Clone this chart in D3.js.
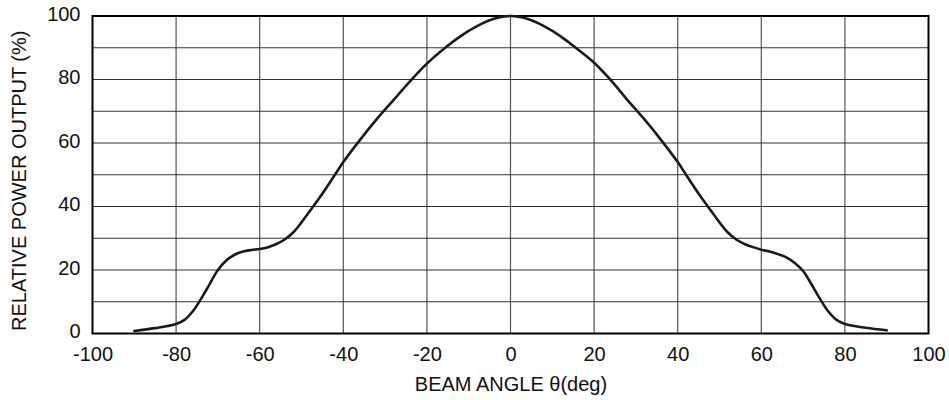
<!DOCTYPE html>
<html>
  <head>
    <meta charset="utf-8">
    <script src="https://cdn.jsdelivr.net/npm/d3@7"></script>
    <style>
      body { margin: 0; background: #fff; }
      text { font-family: "Liberation Sans", Arial, sans-serif; fill: #111; }
    </style>
  </head>
  <body>
    <div id="chart"></div>
    <script>
      // Beam angle (deg) and relative power output (%)
      const angles = [-90, -85, -80, -78, -76, -74, -72, -70, -68, -66, -64, -62, -60,
        -58, -56, -54, -52, -50, -48, -46, -44, -42, -40, -36, -32, -28, -24, -20,
        -16, -12, -8, -4, 0, 4, 8, 12, 16, 20, 24, 28, 32, 36, 40, 42, 44, 46, 48,
        50, 52, 54, 56, 58, 60, 62, 64, 66, 68, 70, 72, 74, 76, 78, 80, 85, 90];
      const power = [0.8, 1.7, 3.0, 4.3, 7.0, 11.0, 15.5, 20.0, 23.0, 24.8, 25.8, 26.3, 26.6,
        27.2, 28.2, 29.6, 31.8, 35.0, 38.6, 42.2, 46.0, 50.0, 54.0, 61.0, 67.5, 73.5, 79.5, 85.0,
        89.6, 93.6, 96.8, 99.1, 100, 99.1, 96.8, 93.6, 89.6, 85.3, 79.8, 73.5, 67.5, 61.0, 54.0, 50.0, 46.0, 42.2, 38.6,
        35.0, 31.8, 29.6, 28.2, 27.2, 26.4, 25.8, 25.0, 24.0, 22.2, 19.7, 15.5, 11.0, 7.0, 4.3, 3.0, 1.8, 1.0];
      const xTicks = [-100, -80, -60, -40, -20, 0, 20, 40, 60, 80, 100];
      const yTicks = [0, 20, 40, 60, 80, 100];
      const yGrid = [10, 20, 30, 40, 50, 60, 70, 80, 90];

      const W = 949, H = 400;
      const mLeft = 92.5, mRight = 928.5, mTop = 16, mBottom = 333.5;
      const fontSize = 20;

      const svg = d3.select("#chart").append("svg")
        .attr("width", W)
        .attr("height", H);

      const x = d3.scaleLinear().domain([-100, 100]).range([mLeft, mRight]);
      const y = d3.scaleLinear().domain([0, 100]).range([mBottom, mTop]);

      // grid
      svg.append("g")
        .selectAll("line")
        .data(xTicks.slice(1, -1))
        .join("line")
          .attr("x1", d => x(d)).attr("x2", d => x(d))
          .attr("y1", mTop).attr("y2", mBottom)
          .attr("stroke", "#555").attr("stroke-width", 1.2);

      svg.append("g")
        .selectAll("line")
        .data(yGrid)
        .join("line")
          .attr("x1", mLeft).attr("x2", mRight)
          .attr("y1", d => y(d)).attr("y2", d => y(d))
          .attr("stroke", "#333").attr("stroke-width", 1.1);

      // frame
      svg.append("rect")
        .attr("x", mLeft).attr("y", mTop)
        .attr("width", mRight - mLeft).attr("height", mBottom - mTop)
        .attr("fill", "none").attr("stroke", "#000").attr("stroke-width", 2);

      // axes (labels only, no tick marks); plain hyphen for negatives
      const plain = d => String(d);

      const xAxis = svg.append("g")
        .attr("transform", `translate(0,${mBottom})`)
        .call(d3.axisBottom(x).tickValues(xTicks).tickFormat(plain).tickSize(0).tickPadding(13));
      xAxis.select(".domain").remove();
      xAxis.selectAll("text").attr("font-size", fontSize).style("font-family", "Liberation Sans, Arial, sans-serif");

      const yAxis = svg.append("g")
        .attr("transform", `translate(${mLeft},-2)`)
        .call(d3.axisLeft(y).tickValues(yTicks).tickFormat(plain).tickSize(0).tickPadding(12));
      yAxis.select(".domain").remove();
      yAxis.selectAll("text").attr("font-size", fontSize).style("font-family", "Liberation Sans, Arial, sans-serif");

      // curve
      const line = d3.line()
        .x((d, i) => x(angles[i]))
        .y(d => y(d))
        .curve(d3.curveCatmullRom.alpha(0.5));

      svg.append("path")
        .datum(power)
        .attr("d", line)
        .attr("fill", "none")
        .attr("stroke", "#1a1a1a")
        .attr("stroke-width", 2.6)
        .attr("stroke-linejoin", "round")
        .attr("stroke-linecap", "round");

      // axis titles
      svg.append("text")
        .attr("x", 511)
        .attr("y", 391)
        .attr("text-anchor", "middle")
        .attr("font-size", fontSize)
        .text("BEAM ANGLE θ(deg)");

      svg.append("text")
        .attr("transform", `translate(26,${(mTop + mBottom) / 2 + 6}) rotate(-90)`)
        .attr("text-anchor", "middle")
        .attr("font-size", fontSize)
        .text("RELATIVE POWER OUTPUT (%)");
    </script>
  </body>
</html>
